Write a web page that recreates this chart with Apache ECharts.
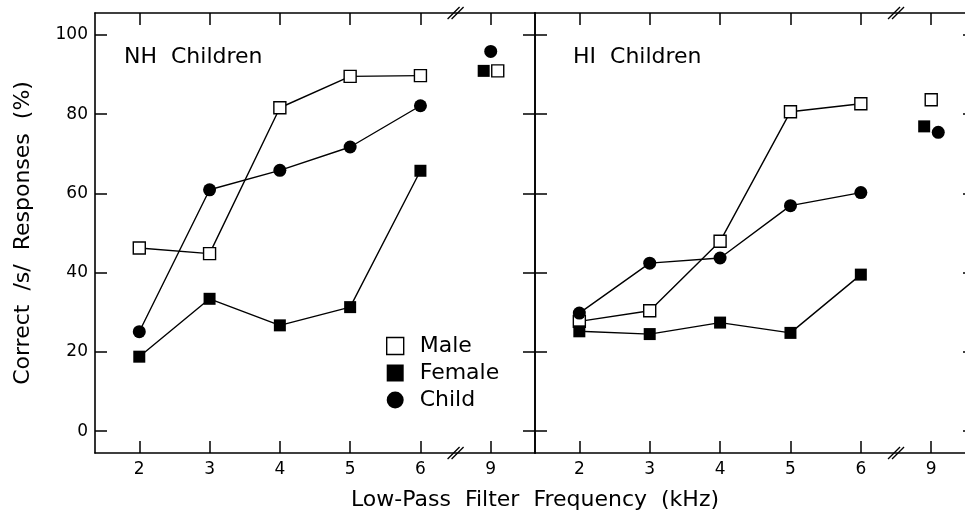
<!DOCTYPE html>
<html>
<head>
<meta charset="utf-8">
<script src="https://cdn.jsdelivr.net/npm/echarts@6/dist/echarts.min.js"></script>
<style>html,body{margin:0;padding:0;background:#fff;}#c{width:965px;height:514px;}</style>
</head>
<body>
<div id="c"></div>
<script>
// tick labels for the x positions (index 0..5)
const freqLabels = ['2', '3', '4', '5', '6', '9'];
const tickIdx = [0, 1, 2, 3, 4, 5];
const yTicks = [0, 20, 40, 60, 80, 100];
// NH children
const nhMale   = [46.2, 44.8, 81.6, 89.5, 89.7, 90.9];
const nhFemale = [18.8, 33.4, 26.7, 31.3, 65.7, 90.9];
const nhChild  = [25.1, 60.9, 65.8, 71.7, 82.1, 95.8];
// HI children
const hiMale   = [27.7, 30.4, 47.9, 80.6, 82.6, 83.6];
const hiFemale = [25.2, 24.5, 27.4, 24.8, 39.5, 76.9];
const hiChild  = [29.8, 42.4, 43.7, 56.9, 60.2, 75.4];
// horizontal jitter (in index units) of the 9 kHz points
const nhJitter9 = {Male: 0.1, Female: -0.1, Child: 0};
const hiJitter9 = {Male: 0, Female: -0.1, Child: 0.1};

const FONT = 'DejaVu Sans';
const XMIN = -0.63, XMAX = 5.63, XMAX_R = 5.48, YMIN = -5.5, YMAX = 105.5;
const LINE = {color: '#000', width: 1.6};

function xAxisDef(grid, pos, labels, xmax) {
  return {
    type: 'value', gridIndex: grid, position: pos, min: XMIN, max: xmax,
    axisLine: {show: true, onZero: false, lineStyle: LINE},
    axisTick: {show: true, inside: true, length: 12, lineStyle: {color: '#000', width: 1.5}, customValues: tickIdx},
    axisLabel: {show: labels, margin: 8, color: '#000', fontFamily: FONT, fontSize: 17, customValues: tickIdx,
      formatter: v => freqLabels[Math.round(v)]},
    splitLine: {show: false}
  };
}
function yAxisDef(grid, pos, labels, lineShown, tickLen) {
  const a = {
    type: 'value', gridIndex: grid, position: pos, min: YMIN, max: YMAX,
    axisLine: {show: lineShown, onZero: false, lineStyle: LINE},
    axisTick: {show: true, inside: true, length: tickLen, lineStyle: {color: '#000', width: 1.5}, customValues: yTicks},
    axisLabel: {show: labels, margin: 7, color: '#000', fontFamily: FONT, fontSize: 17, customValues: yTicks},
    splitLine: {show: false}
  };
  if (labels) {
    a.name = 'Correct  /s/  Responses  (%)';
    a.nameLocation = 'middle';
    a.nameGap = 61;
    a.nameTextStyle = {color: '#000', fontFamily: FONT, fontSize: 22};
  }
  return a;
}

const styles = {
  Male:   {symbol: 'rect', itemStyle: {color: '#fff', borderColor: '#000', borderWidth: 1.4, opacity: 1}, size: 12},
  Female: {symbol: 'rect', itemStyle: {color: '#000', borderColor: '#000', borderWidth: 0, opacity: 1}, size: 12},
  Child:  {symbol: 'circle', itemStyle: {color: '#000', borderColor: '#000', borderWidth: 0, opacity: 1}, size: 13}
};

function panelSeries(grid, data, jitter) {
  const out = [];
  ['Male', 'Female', 'Child'].forEach(name => {
    const vals = data[name];
    const st = styles[name];
    out.push({
      type: 'line', name: name, xAxisIndex: grid * 2, yAxisIndex: grid * 2,
      data: vals.slice(0, 5).map((v, i) => [tickIdx[i], v]),
      symbol: st.symbol, symbolSize: st.size, itemStyle: st.itemStyle,
      lineStyle: {color: '#000', width: 1.4}, showSymbol: true, z: 3
    });
    out.push({
      type: 'scatter', name: name, xAxisIndex: grid * 2, yAxisIndex: grid * 2,
      data: [[tickIdx[5] + jitter[name], vals[5]]],
      symbol: st.symbol, symbolSize: st.size, itemStyle: st.itemStyle, z: 3
    });
  });
  // axis break marks between 6 and 9
  out.push({
    type: 'custom', xAxisIndex: grid * 2, yAxisIndex: grid * 2, silent: true, clip: false, z: 5,
    data: [[4.5, YMIN], [4.5, YMAX]],
    renderItem: (params, api) => {
      const p = api.coord([api.value(0), api.value(1)]);
      const mk = dx => ({type: 'line', shape: {x1: p[0] + dx - 6, y1: p[1] + 6, x2: p[0] + dx + 6, y2: p[1] - 6},
        style: {stroke: '#000', lineWidth: 1.3}});
      return {type: 'group', children: [mk(-2), mk(2)]};
    }
  });
  return out;
}

const chart = echarts.init(document.getElementById('c'), null, {renderer: 'canvas'});
chart.setOption({
  animation: false,
  backgroundColor: '#fff',
  textStyle: {fontFamily: FONT},
  grid: [
    {left: 95, top: 13, width: 440, height: 440},
    {left: 535, top: 13, width: 430, height: 440}
  ],
  xAxis: [
    xAxisDef(0, 'bottom', true, XMAX), xAxisDef(0, 'top', false, XMAX),
    xAxisDef(1, 'bottom', true, XMAX_R), xAxisDef(1, 'top', false, XMAX_R)
  ],
  yAxis: [
    yAxisDef(0, 'left', true, true, 12), yAxisDef(0, 'right', false, true, 12),
    yAxisDef(1, 'left', false, true, 12), yAxisDef(1, 'right', false, false, 2)
  ],
  legend: {
    orient: 'vertical', left: 386, top: 335, itemWidth: 17, itemHeight: 17, itemGap: 5,
    padding: 0, selectedMode: false,
    textStyle: {color: '#000', fontFamily: FONT, fontSize: 22, padding: [0, 0, 0, 11]},
    data: [
      {name: 'Male', icon: 'rect', itemStyle: {color: '#fff', borderColor: '#000', borderWidth: 1.4}},
      {name: 'Female', icon: 'rect', itemStyle: {color: '#000', borderWidth: 0}},
      {name: 'Child', icon: 'circle', itemStyle: {color: '#000', borderWidth: 0}}
    ]
  },
  graphic: [
    {type: 'text', left: 124, top: 46, style: {text: 'NH  Children', fill: '#000', font: '22px "DejaVu Sans"'}},
    {type: 'text', left: 573, top: 46, style: {text: 'HI  Children', fill: '#000', font: '22px "DejaVu Sans"'}},
    {type: 'text', x: 535, y: 489, style: {text: 'Low-Pass  Filter  Frequency  (kHz)', fill: '#000', font: '22px "DejaVu Sans"', textAlign: 'center', textVerticalAlign: 'top'}}
  ],
  series: [].concat(
    panelSeries(0, {Male: nhMale, Female: nhFemale, Child: nhChild}, nhJitter9),
    panelSeries(1, {Male: hiMale, Female: hiFemale, Child: hiChild}, hiJitter9)
  )
});
</script>
</body>
</html>
